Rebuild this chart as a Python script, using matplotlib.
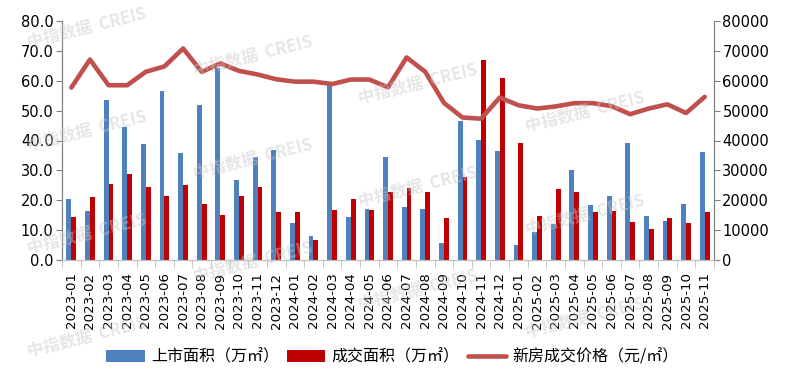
import matplotlib
matplotlib.use("Agg")
import matplotlib.pyplot as plt
import numpy as np

plt.rcParams['font.family'] = ['Noto Sans CJK SC', 'DejaVu Sans']

months = ["2023-01","2023-02","2023-03","2023-04","2023-05","2023-06","2023-07","2023-08","2023-09","2023-10","2023-11","2023-12",
          "2024-01","2024-02","2024-03","2024-04","2024-05","2024-06","2024-07","2024-08","2024-09","2024-10","2024-11","2024-12",
          "2025-01","2025-02","2025-03","2025-04","2025-05","2025-06","2025-07","2025-08","2025-09","2025-10","2025-11"]
listed_area = [20.5, 16.5, 53.6, 44.6, 38.9, 56.6, 35.9, 51.9, 64.4, 26.9, 34.6, 36.8,
               12.4, 8.0, 58.5, 14.4, 17.1, 34.4, 17.7, 17.1, 5.7, 46.5, 40.1, 36.5,
               5.0, 9.4, 12.0, 30.1, 18.4, 21.4, 39.1, 14.7, 13.0, 18.7, 36.1]
sold_area = [14.5, 21.2, 25.6, 28.9, 24.5, 21.5, 25.2, 18.8, 15.2, 21.5, 24.5, 16.0,
             16.0, 6.7, 16.7, 20.4, 16.7, 22.7, 24.1, 22.7, 14.0, 27.8, 66.9, 60.9,
             39.1, 14.7, 23.7, 22.7, 16.0, 16.4, 12.7, 10.4, 14.0, 12.4, 16.0]
price = [57700, 67100, 58500, 58500, 63000, 64800, 70800, 63000, 65800, 63300, 62100, 60500,
         59700, 59700, 58900, 60400, 60400, 57800, 67800, 63000, 52600, 47700, 47300, 54400,
         51800, 50700, 51400, 52500, 52500, 51500, 48800, 50700, 52100, 49200, 54600]

fig = plt.figure(figsize=(7.85, 3.75), dpi=100)
ax = fig.add_axes([62/785, 1-260/375, (714-62)/785, (260-21)/375])
ax2 = ax.twinx()

x = np.arange(len(months))
w = 0.26
ax.bar(x - w/2, listed_area, width=w, color='#4F81BD', label='上市面积（万㎡）', zorder=2)
ax.bar(x + w/2, sold_area, width=w, color='#C00000', label='成交面积（万㎡）', zorder=2)
ax2.plot(x, price, color='#C0504D', lw=3.3, label='新房成交价格（元/㎡）', solid_capstyle='round')

ax.set_xlim(-0.5, len(months)-0.5)
ax.set_ylim(0, 80)
ax2.set_ylim(0, 80000)
ax.set_yticks(np.arange(0, 81, 10))
ax.set_yticklabels([f"{v:.1f}" for v in np.arange(0, 81, 10)], fontsize=10.5, family=['DejaVu Sans'])
ax2.set_yticks(np.arange(0, 80001, 10000))
ax2.set_yticklabels([f"{v}" for v in range(0, 80001, 10000)], fontsize=10.5, family=['DejaVu Sans'])

ax.set_xticks(x)
ax.set_xticklabels(months, rotation=90, fontsize=9.6, family=['DejaVu Sans'])
ax.tick_params(axis='x', length=0, pad=9)
ax.set_xticks(np.arange(-0.5, len(months)), minor=True)
ax.tick_params(axis='x', which='minor', length=6, color='#BFBFBF')

for a in (ax, ax2):
    a.spines['top'].set_visible(False)
    a.spines['left'].set_color('#808080')
    a.spines['right'].set_color('#808080')
    a.spines['bottom'].set_color('#BFBFBF')
ax.tick_params(axis='y', color='#808080', length=4, labelcolor='black', pad=2)
ax2.tick_params(axis='y', color='#808080', length=4, labelcolor='black', pad=2)

h1, l1 = ax.get_legend_handles_labels()
h2, l2 = ax2.get_legend_handles_labels()
fig.legend(h1 + h2, l1 + l2, loc='center', bbox_to_anchor=(0.5, 1-357/375), ncol=3,
           frameon=False, fontsize=11.5, handlelength=2.4, handleheight=0.8,
           columnspacing=0.5, handletextpad=0.4)

# watermark (tiled)
cols = [87, 253, 418, 585, 752]
for i, cx in enumerate(cols):
    y0 = (28 + 28 * i) % 103
    for k in range(4):
        cy = y0 + 103 * k
        if cy < 15 or cy > 360 or cx > 700:
            continue
        fig.text(cx/785, 1-cy/375, '中指数据  CREIS', fontsize=12, color='#C8C8C8', alpha=0.45,
                 rotation=14, ha='center', va='center', weight='bold', zorder=10)

fig.savefig('out.png', dpi=100)
